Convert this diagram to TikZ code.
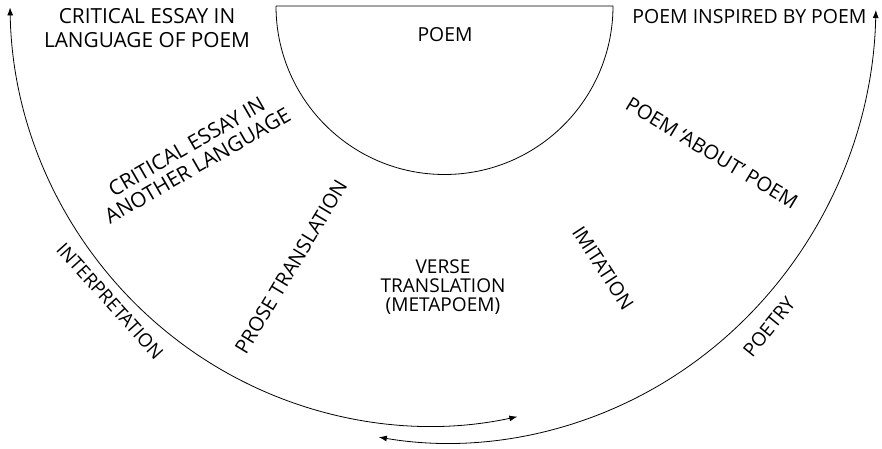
\documentclass[tikz,border=0pt]{standalone}
\usepackage{fontspec}
\setmainfont{Open Sans}
\usetikzlibrary{arrows.meta}
\tikzset{
  lbl/.style={inner sep=0pt, align=center},
  ln/.style={line width=0.6pt},
  dbl/.style={ln, {Latex[length=6pt,width=4.5pt]}-{Latex[length=6pt,width=4.5pt]}}
}
\begin{document}
\begin{tikzpicture}[x=0.75pt,y=-0.75pt]
\useasboundingbox (0,0) rectangle (882,449);
% inner semicircle
\coordinate (SL) at (276,6);
\coordinate (SR) at (613,6);
\draw[ln] (SL) -- (SR) arc[start angle=0, end angle=180, radius=168.5];
% outer arcs
\coordinate (Lstart) at ({430+420*cos(179)},{426*sin(179)});
\draw[dbl] (Lstart) arc[start angle=179, end angle=78, x radius=420, y radius=426];
\coordinate (Rstart) at ({448+428*cos(1.3)},{443*sin(1.3)});
\draw[dbl] (Rstart) arc[start angle=1.3, end angle=99.3, x radius=428, y radius=443];
% labels
\node[lbl, font=\fontsize{14.5pt}{18pt}\selectfont] (poem) at (445,35) {POEM};
\node[lbl, font=\fontsize{15.6pt}{18pt}\selectfont] (cel) at (147,28) {CRITICAL ESSAY IN\\LANGUAGE OF POEM};
\node[lbl, font=\fontsize{14.6pt}{18pt}\selectfont] (pip) at (749.5,17) {POEM INSPIRED BY POEM};
\node[lbl, rotate=30, font=\fontsize{15.6pt}{16.5pt}\selectfont] (cea) at (192,156) {CRITICAL ESSAY IN\\ANOTHER LANGUAGE};
\node[lbl, rotate=59, font=\fontsize{15pt}{18pt}\selectfont] (pt) at (291,267) {PROSE TRANSLATION};
\node[lbl, font=\fontsize{14.3pt}{14.25pt}\selectfont] (vt) at (443,287) {VERSE\\TRANSLATION\\(METAPOEM)};
\node[lbl, rotate=-57, font=\fontsize{14.6pt}{18pt}\selectfont] (im) at (603,268) {IMITATION};
\node[lbl, rotate=-31, font=\fontsize{15pt}{18pt}\selectfont] (pap) at (712,153) {POEM ‘ABOUT’ POEM};
\node[lbl, rotate=-48, font=\fontsize{14pt}{18pt}\selectfont] (int) at (110,301) {INTERPRETATION};
\node[lbl, rotate=51, font=\fontsize{14.3pt}{18pt}\selectfont] (poe) at (769,327) {POETRY};
\end{tikzpicture}
\end{document}
